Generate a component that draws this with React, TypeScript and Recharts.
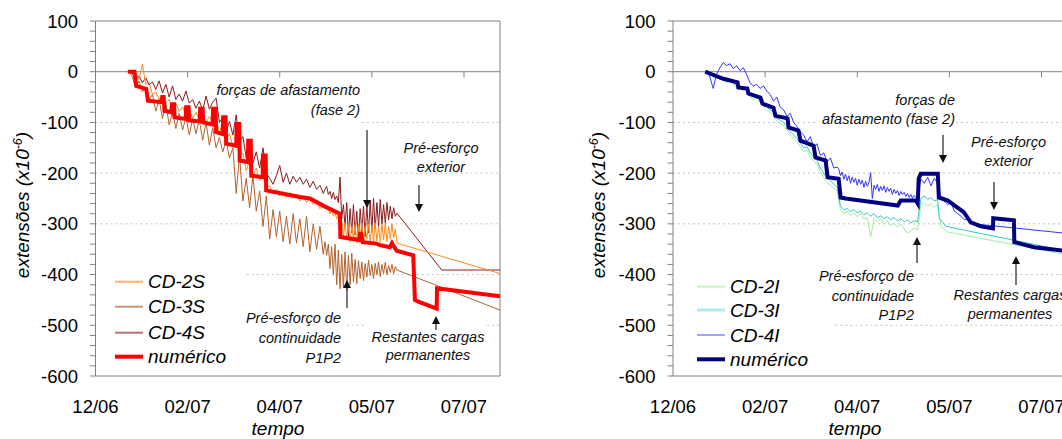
import React from 'react'
import { LineChart, Line, XAxis, YAxis, ReferenceLine } from 'recharts'

const FONT = "'Liberation Sans', Arial, Helvetica, sans-serif"
const AXIS = '#808080'
const GRID = '#c4c4c4'

// eixo do tempo em dias desde 12/06
const xTicks = [0, 55, 110, 165, 220]
const xLabels = ['12/06', '02/07', '04/07', '05/07', '07/07']
const X_MAX = 241.5
const yTicks = [
  100, 80, 60, 40, 20, 0, -20, -40, -60, -80, -100, -120, -140, -160, -180, -200, -220, -240,
  -260, -280, -300, -320, -340, -360, -380, -400, -420, -440, -460, -480, -500, -520, -540,
  -560, -580, -600,
]

// dias das leituras (secção S: diárias no fim)
const diasS = [
  20, 22, 24, 26, 28, 30, 32, 34, 36, 38, 40, 42, 44, 46, 48, 50, 52, 54, 56, 58, 60, 62, 64,
  66, 68, 70, 72, 74, 76, 78, 80, 82, 84, 86, 88, 90, 92, 94, 96, 98, 100, 102, 104, 106, 108,
  110, 112, 114, 116, 118, 120, 122, 124, 126, 128, 130, 132, 134, 136,
  137, 138, 139, 140, 141, 142, 143, 144, 145, 146, 147, 148, 149, 150, 151, 152, 153, 154,
  155, 156, 157, 158, 159, 160, 161, 162, 163, 164, 165, 166, 167, 168, 169, 170, 171, 172,
  173, 174, 175, 176, 177, 178, 179, 180,
]
// secção I
const diasI = [
  20, 22, 24, 26, 28, 30, 32, 34, 36, 38, 40, 42, 44, 46, 48, 50, 52, 54, 56, 58, 60, 62, 64,
  66, 68, 70, 72, 74, 76, 78, 80, 82, 84, 86, 88, 90, 92, 94, 96, 98, 100, 102, 104, 106, 108,
  110, 112, 114, 116, 118, 120, 122, 124, 126, 128, 130, 132, 134, 136, 138, 140, 142, 144,
  146, 148, 150, 152, 154, 156, 158, 160, 162, 164, 166, 168, 170, 172, 174, 176, 178, 180,
]
const diasI4 = [
  20, 22, 24, 26, 28, 30, 32, 34, 36, 38, 40, 42, 44, 46, 48, 50, 52, 54, 56, 58, 60, 62, 64,
  66, 68, 70, 72, 74, 76, 78, 80, 82, 84, 86, 88, 90, 92, 94, 96, 98,
  99, 100, 101, 102, 103, 104, 105, 106, 107, 108, 109, 110, 111, 112, 113, 114, 115, 116,
  117, 118, 119, 120, 121, 122, 123, 124, 125, 126, 127, 128, 129, 130, 131, 132, 133, 134,
  135, 136, 137, 138, 139, 140, 141, 142, 143, 144, 145, 146,
  148, 150, 152, 154, 156, 158, 160, 162, 164, 166, 168, 170, 172, 174, 176, 178, 180,
]

// ---- secção superior (S) ----
const cd2S = [
  0, -5, -2, -15, 15, -25, -20, -45, -40, -55,
  -48, -62, -55, -72, -62, -78, -70, -85, -75, -92,
  -80, -95, -82, -100, -88, -102, -95, -118, -105, -135,
  -122, -148, -138, -165, -160, -195, -175, -205, -190, -215,
  -200, -228, -225, -240, -232, -245, -236, -248, -238, -250,
  -242, -255, -246, -258, -250, -262, -255, -270, -262,
  -265, -272, -270, -280, -272, -285, -278, -290, -282, -315,
  -295, -325, -298, -330, -300, -335, -305, -330, -302, -338,
  -300, -332, -298, -335, -305, -330, -300, -338, -302, -335,
  -298, -334, -305, -336, -300, -332, -298, -335, -305, -330,
  -300, -328, -310, -338,
]
const cd2SFimDias = [241.5]
const cd2SFim = [-398]

const cd3S = [
  0, -10, -30, -18, -40, -30, -55, -45, -78, -55,
  -92, -62, -105, -80, -112, -82, -115, -90, -125, -92,
  -122, -95, -135, -100, -145, -110, -150, -130, -158, -135,
  -170, -150, -240, -165, -255, -210, -268, -205, -275, -235,
  -305, -245, -330, -272, -325, -275, -335, -285, -340, -280,
  -338, -290, -345, -285, -355, -300, -350, -305, -360,
  -335, -362, -340, -388, -345, -400, -340, -420, -352, -428,
  -360, -425, -355, -432, -362, -420, -358, -415, -370, -418,
  -372, -408, -375, -412, -378, -405, -372, -402, -380, -408,
  -378, -400, -375, -404, -380, -398, -376, -400, -382, -396,
  -380, -398, -384, -391,
]
const cd3SFimDias = [241.5]
const cd3SFim = [-470]

const cd4S = [
  0, -4, -15, -8, -22, -12, -26, -20, -35, -18,
  -42, -25, -50, -28, -55, -44, -58, -38, -62, -55,
  -72, -58, -76, -48, -74, -60, -52, -100, -90, -118,
  -98, -125, -85, -138, -128, -170, -140, -180, -158, -190,
  -150, -200, -210, -222, -205, -185, -218, -200, -222, -206,
  -218, -208, -222, -212, -228, -216, -232, -224, -240,
  -232, -226, -242, -236, -250, -238, -252, -245, -258, -208,
  -290, -262, -305, -258, -325, -270, -318, -262, -322, -275,
  -330, -270, -315, -265, -325, -262, -318, -255, -315, -250,
  -310, -258, -305, -252, -300, -262, -298, -258, -292, -265,
  -290, -268, -285, -279,
]
const cd4SFimDias = [206.7, 241.5]
const cd4SFim = [-391, -391]

const numSDias = [
  19.3, 23.3, 24.3, 30.3, 31.3, 39.3, 39.8, 40.7, 41.2, 45.2, 45.7, 46.9, 47.2, 53.8, 54.1,
  55.6, 55.9, 62.2, 62.5, 64, 64.3, 69.9, 70.2, 71.7, 72, 75.9, 76.2, 77.7, 78, 84, 84.3, 85.8,
  86.1, 90.9, 91.2, 92.7, 93, 99.8, 100.1, 101.6, 101.9, 122, 128, 135.9, 145.9, 146.2, 157.8,
  158.4, 159.6, 167.8, 169.8, 175.8, 177, 179.8, 189.7, 190.7, 193.1, 203.7, 203.9, 241.5,
]
const numS = [
  0, 0, -28, -34, -57, -60, -50, -50, -77, -80, -64, -64, -90, -93, -70,
  -70, -96, -98, -73, -73, -100, -104, -73, -73, -119, -123, -90, -90, -142, -146, -103, -103,
  -175, -178, -136, -136, -205, -208, -165, -165, -234, -247, -250, -264, -280, -326, -332,
  -316, -336, -339, -342, -346, -338, -353, -362, -450, -454, -467, -427, -443,
]

// ---- secção inferior (I) ----
const cd2I = [
  0, -4, -10, -12, -15, -17, -22, -18, -26, -32,
  -34, -38, -36, -50, -55, -52, -60, -68, -76, -80,
  -86, -98, -102, -106, -115, -124, -132, -138, -148, -158,
  -154, -168, -176, -182, -198, -208, -218, -224, -230, -235,
  -272, -280, -275, -284, -278, -286, -280, -290, -288, -326,
  -290, -296, -290, -300, -294, -304, -298, -306, -300, -310,
  -318, -314, -308, -312, -262, -258, -265, -260, -268, -262,
]
const cd2IFimDias = [160, 164, 241.5]
const cd2IFim = [-305, -316, -365]

const cd3I = [
  0, -3, -8, -10, -12, -14, -18, -15, -22, -28,
  -30, -34, -32, -45, -50, -48, -56, -62, -70, -75,
  -80, -92, -96, -100, -108, -118, -125, -132, -140, -150,
  -148, -160, -168, -175, -190, -200, -210, -215, -222, -228,
  -265, -272, -270, -276, -272, -278, -275, -282, -278, -285,
  -280, -288, -284, -290, -286, -292, -288, -294, -290, -296,
  -292, -298, -294, -296, -250, -245, -252, -248, -255, -252,
]
const cd3IFimDias = [159, 163, 241.5]
const cd3IFim = [-289, -305, -358]

const cd4I = [
  0, -10, -33, -5, 8, 18, 12, 16, 6, 12,
  2, 8, -6, -22, -28, -25, -33, -28, -38, -45,
  -58, -50, -70, -75, -88, -82, -100, -108, -118, -125,
  -138, -128, -150, -142, -165, -160, -178, -170, -190, -188,
  -192, -205, -198, -212, -202, -215, -205, -220, -208, -218,
  -210, -224, -212, -222, -214, -228, -216, -226, -218, -199,
  -250, -224, -232, -222, -236, -226, -234, -225, -238, -228,
  -236, -230, -242, -232, -240, -234, -244, -236, -242, -238,
  -246, -240, -248, -242, -250, -244, -248, -245,
  -212, -220, -208, -225, -210, -220, -250, -255, -262, -258,
  -275, -280, -285, -292, -290, -298, -300,
]
const cd4IFimDias = [241.5]
const cd4IFim = [-321]

const numIDias = [
  19.3, 22.3, 30.1, 38.5, 39, 44.4, 45, 52.2, 53.4, 60, 61.2, 68.4, 69, 74.9, 76.1, 83.9, 85.1,
  91.1, 92.3, 98.9, 100.1, 103.1, 134.2, 136, 145, 146.1, 146.7, 147.9, 158.1, 158.7, 164.1,
  173.6, 177.8, 183.8, 191, 191.2, 203.5, 203.8, 215.5, 241.5,
]
const numI = [
  0, -4, -14, -21, -31, -33, -43, -51, -63, -71, -87, -92, -110, -116, -136, -146, -169,
  -175, -208, -211, -248, -250, -264, -254, -254, -260, -211, -201, -201, -248, -254,
  -277, -297, -305, -309, -289, -293, -336, -346, -356,
]

type Pt = { t: number; v: number }
type Serie = { nome: string; cor: string; corLegenda: string; largura: number; larguraLegenda: number; pts: Pt[] }

const juntar = (dias: number[], vals: number[], fimDias: number[] = [], fim: number[] = []): Pt[] => [
  ...vals.map((v, i) => ({ t: dias[i], v })),
  ...fim.map((v, i) => ({ t: fimDias[i], v })),
]

const seriesS: Serie[] = [
  { nome: 'CD-4S', cor: '#8b1a1a', corLegenda: '#b87070', largura: 1, larguraLegenda: 2, pts: juntar(diasS, cd4S, cd4SFimDias, cd4SFim) },
  { nome: 'CD-3S', cor: '#b3622c', corLegenda: '#c99470', largura: 1, larguraLegenda: 2, pts: juntar(diasS, cd3S, cd3SFimDias, cd3SFim) },
  { nome: 'CD-2S', cor: '#ff8a1c', corLegenda: '#fdb27a', largura: 1, larguraLegenda: 2, pts: juntar(diasS, cd2S, cd2SFimDias, cd2SFim) },
  { nome: 'numérico', cor: '#ff0000', corLegenda: '#ff0000', largura: 4, larguraLegenda: 4, pts: juntar(numSDias, numS) },
]
const legendaS = ['CD-2S', 'CD-3S', 'CD-4S', 'numérico']

const seriesI: Serie[] = [
  { nome: 'CD-2I', cor: '#9cf09c', corLegenda: '#c6f5c6', largura: 1, larguraLegenda: 2, pts: juntar(diasI, cd2I, cd2IFimDias, cd2IFim) },
  { nome: 'CD-3I', cor: '#33c8c8', corLegenda: '#b2e9e9', largura: 1, larguraLegenda: 3, pts: juntar(diasI, cd3I, cd3IFimDias, cd3IFim) },
  { nome: 'CD-4I', cor: '#3535ff', corLegenda: '#4a4aff', largura: 1, larguraLegenda: 1, pts: juntar(diasI4, cd4I, cd4IFimDias, cd4IFim) },
  { nome: 'numérico', cor: '#000080', corLegenda: '#000080', largura: 4, larguraLegenda: 4, pts: juntar(numIDias, numI) },
]
const legendaI = ['CD-2I', 'CD-3I', 'CD-4I', 'numérico']

// linhas de grelha tracejadas (partes escondidas pelas caixas de texto no original)
type Seg = { y: number; x1: number; x2: number }
const grelhaS: Seg[] = [
  { y: -100, x1: 0, x2: 70 }, { y: -100, x1: 159, x2: X_MAX },
  { y: -200, x1: 0, x2: X_MAX }, { y: -300, x1: 0, x2: X_MAX },
  { y: -400, x1: 90.3, x2: X_MAX },
  { y: -500, x1: 150, x2: 162 }, { y: -500, x1: 233.8, x2: X_MAX },
]
const grelhaI: Seg[] = [
  { y: -100, x1: 0, x2: 85 }, { y: -100, x1: 169, x2: X_MAX },
  { y: -200, x1: 0, x2: X_MAX }, { y: -300, x1: 0, x2: X_MAX },
  { y: -400, x1: 145, x2: X_MAX }, { y: -500, x1: 97, x2: X_MAX },
]

function Painel({ series, grelha, left, width, marginLeft }: { series: Serie[]; grelha: Seg[]; left: number; width: number; marginLeft: number }) {
  const tickStyle = { fontSize: 18.5, fill: '#000', fontFamily: FONT }
  return (
    <div style={{ position: 'absolute', left, top: 0 }}>
      <LineChart width={width} height={439} margin={{ top: 21, right: width - marginLeft - 60 - 404.5, left: marginLeft, bottom: 0 }}>
        <XAxis
          type="number"
          dataKey="t"
          domain={[0, X_MAX]}
          ticks={xTicks}
          interval={0}
          allowDataOverflow
          tickFormatter={(v) => xLabels[xTicks.indexOf(v)] ?? ''}
          tickLine={false}
          tickSize={0}
          tickMargin={24}
          height={63}
          axisLine={{ stroke: AXIS }}
          tick={tickStyle}
        />
        <YAxis
          type="number"
          domain={[-600, 100]}
          ticks={yTicks}
          interval={0}
          allowDataOverflow
          width={60}
          tickSize={5.5}
          tickMargin={12}
          tickFormatter={(v) => (v % 100 === 0 ? String(v) : '')}
          axisLine={{ stroke: AXIS }}
          tickLine={{ stroke: AXIS }}
          tick={tickStyle}
        />
        {grelha.map((g, i) => (
          <ReferenceLine key={'g' + i} segment={[{ x: g.x1, y: g.y }, { x: g.x2, y: g.y }]} stroke={GRID} strokeDasharray="2 3" />
        ))}
        <ReferenceLine y={100} stroke={AXIS} />
        <ReferenceLine x={X_MAX} stroke={AXIS} />
        <ReferenceLine y={0} stroke={AXIS} />
        {xTicks.slice(1).map((t) => (
          <ReferenceLine key={'t' + t} segment={[{ x: t, y: 0 }, { x: t, y: -11 }]} stroke={AXIS} />
        ))}
        {series.map((s) => (
          <Line
            key={s.nome}
            data={s.pts}
            dataKey="v"
            type="linear"
            stroke={s.cor}
            strokeWidth={s.largura}
            dot={false}
            activeDot={false}
            isAnimationActive={false}
          />
        ))}
      </LineChart>
    </div>
  )
}

function Seta({ x, y1, y2 }: { x: number; y1: number; y2: number }) {
  const dir = y2 > y1 ? 1 : -1
  return (
    <g>
      <line x1={x} y1={y1} x2={x} y2={y2 - dir * 6} stroke="#222" strokeWidth={1.2} />
      <polygon points={`${x - 4},${y2 - dir * 8} ${x + 4},${y2 - dir * 8} ${x},${y2}`} fill="#111" />
    </g>
  )
}

type Nota = { linhas: string[]; x: number; ys: number[]; anchor: 'start' | 'middle' | 'end' }
const notas: Nota[] = [
  { linhas: ['forças de afastamento', '(fase 2)'], x: 360, ys: [94.5, 115], anchor: 'end' },
  { linhas: ['Pré-esforço', 'exterior'], x: 441, ys: [153, 172], anchor: 'middle' },
  { linhas: ['Pré-esforço de', 'continuidade', 'P1P2'], x: 341, ys: [323, 343, 362.5], anchor: 'end' },
  { linhas: ['Restantes cargas', 'permanentes'], x: 428, ys: [341.5, 360], anchor: 'middle' },
  { linhas: ['forças de', 'afastamento (fase 2)'], x: 955, ys: [105, 124.3], anchor: 'end' },
  { linhas: ['Pré-esforço', 'exterior'], x: 1008.5, ys: [147.3, 166], anchor: 'middle' },
  { linhas: ['Pré-esforço de', 'continuidade', 'P1P2'], x: 914, ys: [281, 301, 320], anchor: 'end' },
  { linhas: ['Restantes cargas', 'permanentes'], x: 1010, ys: [300, 319], anchor: 'middle' },
]
const setas = [
  { x: 367, y1: 130, y2: 208 }, { x: 419, y1: 185, y2: 212 },
  { x: 347, y1: 308, y2: 280 }, { x: 436, y1: 330, y2: 316 },
  { x: 943, y1: 135, y2: 163 }, { x: 994, y1: 182, y2: 210 },
  { x: 917, y1: 263, y2: 237 }, { x: 1016, y1: 285, y2: 256 },
]

function Legenda({ series, ordem, x, ys }: { series: Serie[]; ordem: string[]; x: number; ys: number[] }) {
  return (
    <g>
      {ordem.map((nome, i) => {
        const s = series.find((q) => q.nome === nome)!
        return (
          <g key={nome}>
            <line x1={x} x2={x + 28} y1={ys[i]} y2={ys[i]} stroke={s.corLegenda} strokeWidth={s.larguraLegenda} />
            <text x={x + 33} y={ys[i] + 6.5} fontSize={19} fontStyle="italic" fontFamily={FONT} fill="#000">
              {nome}
            </text>
          </g>
        )
      })}
    </g>
  )
}

function TituloY({ x }: { x: number }) {
  return (
    <text transform={`translate(${x},205) rotate(-90)`} textAnchor="middle" fontSize={19} fontStyle="italic" fontFamily={FONT} fill="#000">
      extensões (x10
      <tspan dy={-7} fontSize={12.5}>-6</tspan>
      <tspan dy={7}>)</tspan>
    </text>
  )
}

export default function App() {
  return (
    <div style={{ position: 'absolute', left: 0, top: 0, width: 1062, height: 439, overflow: 'hidden', background: '#fff' }}>
      <Painel series={seriesS} grelha={grelhaS} left={0} width={520} marginLeft={35.5} />
      <Painel series={seriesI} grelha={grelhaI} left={540} width={560} marginLeft={73} />
      <svg width={1062} height={439} style={{ position: 'absolute', left: 0, top: 0, pointerEvents: 'none' }}>
        <TituloY x={29} />
        <TituloY x={605} />
        <text x={278} y={435} textAnchor="middle" fontSize={19} fontStyle="italic" fontFamily={FONT}>tempo</text>
        <text x={855} y={435} textAnchor="middle" fontSize={19} fontStyle="italic" fontFamily={FONT}>tempo</text>
        <Legenda series={seriesS} ordem={legendaS} x={115} ys={[281.7, 306.7, 332.7, 356.7]} />
        <Legenda series={seriesI} ordem={legendaI} x={697} ys={[286.7, 310, 335, 359.3]} />
        {notas.map((n, i) => (
          <text key={i} textAnchor={n.anchor} fontSize={14.5} fontStyle="italic" fontFamily={FONT} fill="#111">
            {n.linhas.map((l, j) => (
              <tspan key={j} x={n.x} y={n.ys[j]}>{l}</tspan>
            ))}
          </text>
        ))}
        {setas.map((s, i) => (
          <Seta key={i} {...s} />
        ))}
      </svg>
    </div>
  )
}
